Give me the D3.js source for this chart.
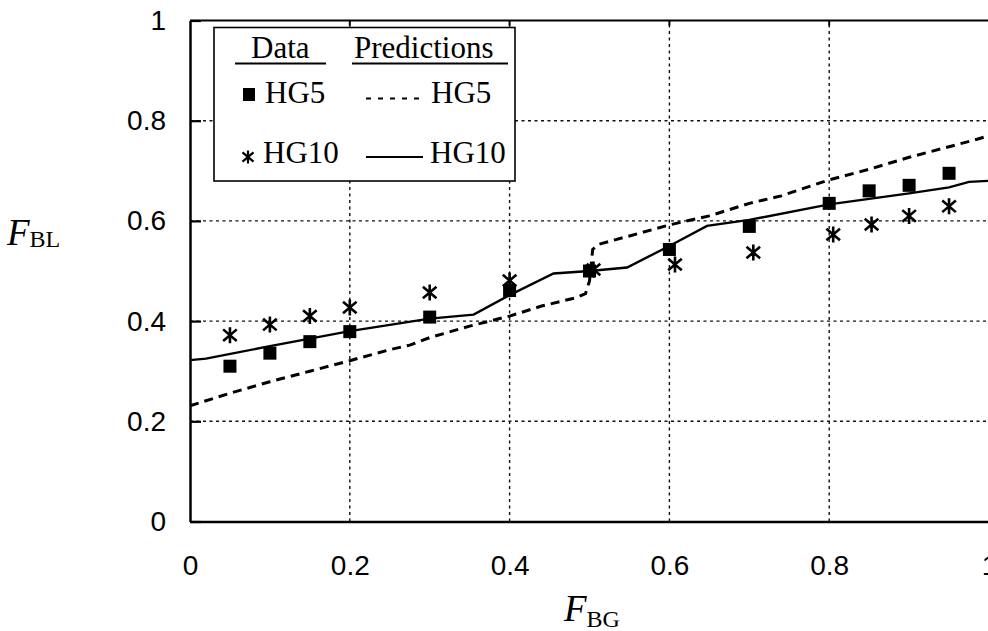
<!DOCTYPE html>
<html>
<head>
<meta charset="utf-8">
<script src="https://cdn.jsdelivr.net/npm/d3@7"></script>
<style>
  html, body { margin: 0; padding: 0; background: #fff; }
  svg { display: block; }
  .tick text { font-family: "Liberation Sans", Arial, sans-serif; font-size: 28px; fill: #000; }
  .serif { font-family: "Liberation Serif", "Times New Roman", serif; fill: #000; }
</style>
</head>
<body>
<svg id="chart" width="988" height="631"></svg>
<script>
// Measured fractions: data points
const fbgHG5  = [0.05, 0.10, 0.15, 0.20, 0.30, 0.40, 0.50, 0.60, 0.70, 0.80, 0.85, 0.90, 0.95];
const fblHG5  = [0.310, 0.336, 0.359, 0.379, 0.408, 0.461, 0.500, 0.543, 0.589, 0.635, 0.660, 0.671, 0.695];
const fbgHG10 = [0.05, 0.10, 0.15, 0.20, 0.30, 0.40, 0.505, 0.607, 0.705, 0.805, 0.853, 0.90, 0.95];
const fblHG10 = [0.372, 0.393, 0.410, 0.427, 0.457, 0.481, 0.503, 0.513, 0.537, 0.573, 0.593, 0.610, 0.629];

// Model predictions
const predXHG5  = [0, 0.05, 0.10, 0.15, 0.20, 0.25, 0.275, 0.30, 0.35, 0.40, 0.44, 0.484, 0.495, 0.50, 0.504, 0.511, 0.55, 0.60, 0.65, 0.70, 0.74, 0.80, 0.85, 0.90, 0.95, 0.985, 1.0];
const predYHG5  = [0.231, 0.256, 0.279, 0.300, 0.321, 0.343, 0.352, 0.367, 0.390, 0.410, 0.430, 0.447, 0.455, 0.480, 0.543, 0.553, 0.570, 0.592, 0.610, 0.635, 0.650, 0.682, 0.703, 0.727, 0.748, 0.763, 0.770];
const predXHG10 = [0, 0.02, 0.10, 0.20, 0.30, 0.355, 0.40, 0.455, 0.50, 0.547, 0.60, 0.647, 0.70, 0.80, 0.90, 0.95, 0.975, 1.0];
const predYHG10 = [0.322, 0.325, 0.350, 0.380, 0.405, 0.413, 0.452, 0.495, 0.500, 0.507, 0.550, 0.590, 0.602, 0.633, 0.655, 0.667, 0.678, 0.680];

// Axis ticks
const xTicks = [0, 0.2, 0.4, 0.6, 0.8, 1];
const yTicks = [0, 0.2, 0.4, 0.6, 0.8, 1];
const gridTicks = [0.2, 0.4, 0.6, 0.8];

const svg = d3.select("#chart");
const x = d3.scaleLinear().domain([0, 1]).range([190, 989]);
const y = d3.scaleLinear().domain([0, 1]).range([521.5, 20.5]);

// Dotted grid
const grid = svg.append("g").attr("stroke", "#111").attr("stroke-width", 1.4).attr("stroke-dasharray", "3,3.5");
grid.selectAll(".gx").data(gridTicks).join("line")
  .attr("x1", d => x(d)).attr("x2", d => x(d)).attr("y1", y(0)).attr("y2", y(1));
grid.selectAll(".gy").data(gridTicks).join("line")
  .attr("x1", x(0)).attr("x2", 988).attr("y1", d => y(d)).attr("y2", d => y(d));

// Axes
const fmt = d3.format("");
const xAxis = svg.append("g").attr("transform", `translate(0,${y(0)})`)
  .call(d3.axisBottom(x).tickValues(xTicks).tickFormat(fmt).tickSizeInner(0).tickSizeOuter(0).tickPadding(34));
const yAxis = svg.append("g").attr("transform", `translate(${x(0)},0)`)
  .call(d3.axisLeft(y).tickValues(yTicks).tickFormat(fmt).tickSizeInner(-11).tickSizeOuter(0).tickPadding(24));
[xAxis, yAxis].forEach(a => {
  a.select(".domain").attr("stroke", "#000").attr("stroke-width", 2.5);
  a.selectAll(".tick line").attr("stroke", "#000").attr("stroke-width", 2.2);
});
xAxis.selectAll(".tick text").attr("dy", "0.71em");
// top frame line
svg.append("line").attr("x1", x(0)).attr("x2", 988).attr("y1", y(1)).attr("y2", y(1))
  .attr("stroke", "#000").attr("stroke-width", 2);
svg.append("g").selectAll("line").data([0.2, 0.4, 0.6, 0.8]).join("line")
  .attr("x1", d => x(d)).attr("x2", d => x(d)).attr("y1", y(1)).attr("y2", y(1) + 5)
  .attr("stroke", "#000").attr("stroke-width", 2);

// Prediction lines
const line = d3.line().x(d => x(d[0])).y(d => y(d[1]));
svg.append("path").datum(d3.zip(predXHG5, predYHG5)).attr("d", line)
  .attr("fill", "none").attr("stroke", "#000").attr("stroke-width", 3).attr("stroke-dasharray", "9,6");
svg.append("path").datum(d3.zip(predXHG10, predYHG10)).attr("d", line)
  .attr("fill", "none").attr("stroke", "#000").attr("stroke-width", 2.4);

// Markers
function asterisk(g, cx, cy, r) {
  const dx = r * 0.85, dy = r * 0.72;
  return g.append("path")
    .attr("d", `M${cx},${cy - r}V${cy + r}M${cx - dx},${cy - dy}L${cx + dx},${cy + dy}M${cx - dx},${cy + dy}L${cx + dx},${cy - dy}`)
    .attr("stroke", "#000").attr("stroke-width", 2.6).attr("fill", "none");
}
const marks = svg.append("g");
d3.zip(fbgHG10, fblHG10).forEach(d => asterisk(marks, x(d[0]), y(d[1]), 8));
marks.selectAll("rect").data(d3.zip(fbgHG5, fblHG5)).join("rect")
  .attr("x", d => x(d[0]) - 6.5).attr("y", d => y(d[1]) - 6.5)
  .attr("width", 13).attr("height", 13).attr("fill", "#000");

// Legend
const lg = svg.append("g");
lg.append("rect").attr("x", 214).attr("y", 27.5).attr("width", 301).attr("height", 153.5)
  .attr("fill", "#fff").attr("stroke", "#000").attr("stroke-width", 1.6);
const lt = (t, xx, yy) => lg.append("text").attr("class", "serif").attr("x", xx).attr("y", yy)
  .attr("font-size", 31).text(t);
lt("Data", 251, 58);
lt("Predictions", 354, 58);
lg.append("line").attr("x1", 235).attr("x2", 326).attr("y1", 63.5).attr("y2", 63.5).attr("stroke", "#000").attr("stroke-width", 2);
lg.append("line").attr("x1", 352).attr("x2", 508).attr("y1", 63.5).attr("y2", 63.5).attr("stroke", "#000").attr("stroke-width", 2);
lg.append("rect").attr("x", 243).attr("y", 88).attr("width", 12).attr("height", 13).attr("fill", "#000");
lt("HG5", 265, 103);
lg.append("line").attr("x1", 366).attr("x2", 420).attr("y1", 98.5).attr("y2", 98.5)
  .attr("stroke", "#000").attr("stroke-width", 2).attr("stroke-dasharray", "5,7");
lt("HG5", 431, 103);
asterisk(lg, 248, 157, 6.5).attr("stroke-width", 2.2);
lt("HG10", 263, 163);
lg.append("line").attr("x1", 366).attr("x2", 423).attr("y1", 157).attr("y2", 157)
  .attr("stroke", "#000").attr("stroke-width", 2);
lt("HG10", 430, 163);

// Axis titles
const xt = svg.append("text").attr("class", "serif").attr("x", 564).attr("y", 621);
xt.append("tspan").attr("font-style", "italic").attr("font-size", 37).text("F");
xt.append("tspan").attr("font-size", 24).attr("dy", 6).text("BG");
const yt = svg.append("text").attr("class", "serif").attr("x", 7).attr("y", 245);
yt.append("tspan").attr("font-style", "italic").attr("font-size", 37).text("F");
yt.append("tspan").attr("font-size", 24).attr("dy", 2).text("BL");
</script>
</body>
</html>
